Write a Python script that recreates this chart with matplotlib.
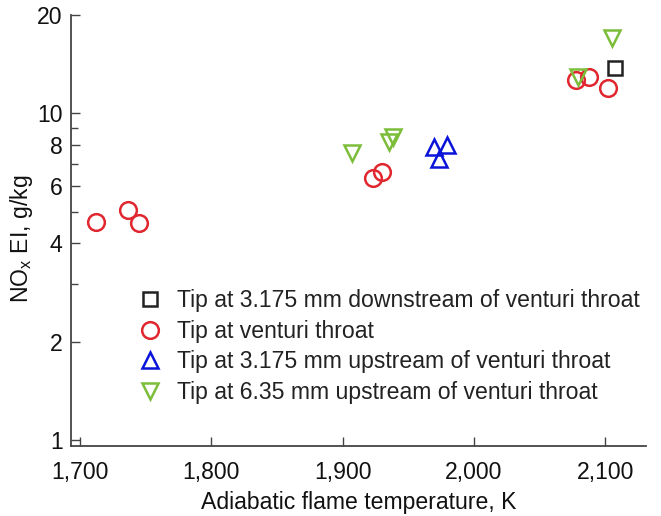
import matplotlib
matplotlib.use("Agg")
import matplotlib.pyplot as plt
from matplotlib.ticker import FixedLocator, NullFormatter, FuncFormatter

plt.rcParams['font.family'] = ['Liberation Sans', 'DejaVu Sans']

# Adiabatic flame temperature (K) and NOx emission index (g/kg) per injector tip position
downstream_T = [2107.5]
downstream_EI = [13.8]

throat_T = [1712, 1736.6, 1745, 1923, 1930, 2078, 2088, 2102]
throat_EI = [4.65, 5.05, 4.61, 6.34, 6.61, 12.65, 12.9, 11.95]

up3_T = [1969.6, 1979.5, 1973.4]
up3_EI = [7.89, 8.0, 7.25]

up6_T = [1907, 1935, 1938, 2079, 2105]
up6_EI = [7.56, 8.17, 8.46, 12.9, 17.0]

labels = [
    "Tip at 3.175 mm downstream of venturi throat",
    "Tip at venturi throat",
    "Tip at 3.175 mm upstream of venturi throat",
    "Tip at 6.35 mm upstream of venturi throat",
]

x_ticks = [1700, 1800, 1900, 2000, 2100]
y_major = [1, 2, 4, 6, 8, 10, 20]
y_minor = [3, 5, 7, 9]

FS = 16.6

fig = plt.figure(figsize=(6.61, 5.16), dpi=100)
ax = fig.add_axes([0.1074, 0.1357, 0.8696, 0.8353])

mk = dict(linestyle='none', markerfacecolor='none', markeredgewidth=1.8)
ax.plot(downstream_T, downstream_EI, marker='s', markersize=10.5, color='#222222', label=labels[0], **mk)
ax.plot(throat_T, throat_EI, marker='o', markersize=12, color='#e0262e', label=labels[1], **mk)
ax.plot(up3_T, up3_EI, marker='^', markersize=12, color='#0a14d8', label=labels[2], **mk)
ax.plot(up6_T, up6_EI, marker='v', markersize=12, color='#7cbd3a', label=labels[3], **mk)

ax.set_yscale('log')
ax.set_xlim(1693, 2131)
ax.set_ylim(0.958, 20)

ax.yaxis.set_major_locator(FixedLocator(y_major))
ax.yaxis.set_major_formatter(FuncFormatter(lambda v, p: f"{v:g}"))
ax.yaxis.set_minor_locator(FixedLocator(y_minor))
ax.yaxis.set_minor_formatter(NullFormatter())
ax.xaxis.set_major_locator(FixedLocator(x_ticks))
ax.xaxis.set_major_formatter(FuncFormatter(lambda v, p: f"{int(v):,}"))

for s in ['top', 'right']:
    ax.spines[s].set_visible(False)
for s in ['left', 'bottom']:
    ax.spines[s].set_color('#444444')
    ax.spines[s].set_linewidth(1.3)

ax.tick_params(which='major', direction='in', length=6.5, width=1, color='#444444',
               labelsize=FS, labelcolor='#111111')
ax.tick_params(axis='x', which='major', pad=11)
ax.tick_params(axis='y', which='major', pad=6)
ax.tick_params(which='minor', direction='in', length=5, width=1, color='#444444')

ax.set_xlabel("Adiabatic flame temperature, K", fontsize=FS, color='#111111', labelpad=5)
ax.set_ylabel(r"NO$_\mathregular{x}$ EI, g/kg", fontsize=FS, color='#111111')
ax.yaxis.set_label_coords(-0.062, 0.48)

leg = ax.legend(loc='upper left', bbox_to_anchor=(0.113, 0.364), frameon=False,
                fontsize=FS, handletextpad=0.6, labelspacing=0.33,
                handlelength=1.2, borderaxespad=0, borderpad=0)
for t in leg.get_texts():
    t.set_color('#222222')

fig.savefig("out.png", dpi=100)
